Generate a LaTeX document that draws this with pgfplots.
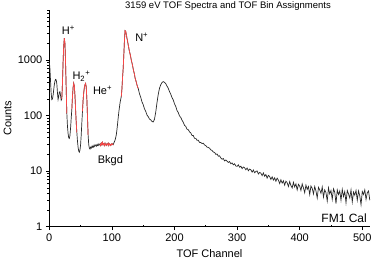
\documentclass[border=0pt]{standalone}
\usepackage{pgfplots}
\pgfplotsset{compat=1.18}
\usepackage{fontspec}
\setmainfont{Liberation Sans}
\definecolor{pk}{RGB}{255,70,70}
\definecolor{ln}{RGB}{40,40,40}
\begin{document}
\begin{tikzpicture}
\useasboundingbox (0,0) rectangle (373pt,260pt);
\begin{axis}[
 at={(49.3pt,33.3pt)}, anchor=south west,
 scale only axis, width=320.5pt, height=216.7pt,
 ymode=log, xmin=0, xmax=512, ymin=1, ymax=8000,
 axis lines=left, axis line style={-, line width=0.8pt, black},
 xtick={0,100,200,300,400,500}, xticklabels={0,100,200,300,400,500},
 minor xtick={50,150,250,350,450},
 ytick={1,10,100,1000}, yticklabels={1,10,100,1000},
 minor ytick={2,3,4,5,6,7,8,9,20,30,40,50,60,70,80,90,200,300,400,500,600,700,800,900,2000,3000,4000,5000,6000,7000,8000},
 tick align=outside, major tick length=3.5pt, minor tick length=2pt,
 minor x tick style={yshift=2pt},
 tick style={line width=0.7pt, black},
 xticklabel style={font=\fontsize{11}{12}\selectfont},
 yticklabel style={font=\fontsize{11}{12}\selectfont},
 /pgf/number format/assume math mode=true,
 clip=false,
]
\addplot[ln, line width=0.7pt] coordinates {
(0,950)(1,700)(2,420)(3,250)(4,195)(5,200)(6,230)(7,290)(8,360)(9,420)(10,450)(11,440)(12,380)(13,260)(14,195)(15,220)(16,265)(17,270)(18,230)(19,190)(20,200)(21,380)(22,900)(23,1800)(24,2500)(25,2000)(26,900)(27,300)(28,110)(29,65)(30,48)(31,40)(32,39)(33,44)(34,60)(35,90)(36,130)(37,220)(38,320)(39,385)(40,340)(41,230)(42,130)(43,75)(44,50)(45,35)(46,27)(47,23)(48,22)(49,24)(50,30)(51,45)(52,75)(53,120)(54,190)(55,260)(56,320)(57,360)(58,380)(59,330)(60,200)(61,95)(62,45)(63,30)(64,26)(65,25)(66,27)(67,26)(68,28)(69,27)(70,29)(71,27)(72,28)(73,30)(74,29)(75,28)(76,30)(77,29)(78,31)(79,29)(80,30)(81,31)(82,29)(83,32)(84,30)(85,33)(86,30)(87,31)(88,29)(89,32)(90,30)(91,29)(92,31)(93,30)(94,32)(95,29)(96,31)(97,30)(98,29)(99,31)(100,30)(101,31)(102,30)(103,32)(104,34)(105,36)(106,40)(107,45)(108,55)(109,70)(110,90)(111,115)(112,140)(113,170)(114,195)(115,220)(116,300)(117,480)(118,700)(119,1200)(120,2200)(121,3400)(122,3300)(123,2900)(124,2500)(125,2200)(126,1900)(127,1650)(128,1450)(129,1300)(130,1150)(131,1000)(132,900)(133,800)(134,700)(135,620)(136,560)(137,480)(138,440)(139,400)(140,360)(141,330)(142,310)(144,250)(146,215)(148,178)(150,158)(152,133)(154,120)(156,103)(158,96)(160,87)(162,84)(164,79)(166,77)(168,86)(170,115)(172,170)(174,240)(176,310)(178,360)(180,395)(182,410)(184,398)(186,378)(188,342)(190,312)(192,272)(194,244)(196,212)(198,192)(200,163)(202,147)(204,124)(206,114)(208,99)(210,93)(212,83)(214,76)(216,67)(218,64)(220,57)(222,56)(224,51)(226,49)(228,44)(230,44)(232,39)(234,39)(236,36)(238,36)(240,33)
(242,32.8)(244,31.5)(246,31.9)(248,29.6)(250,28.9)(252,27.1)(254,26.8)(256,25.9)(258,24.2)(260,23.6)(262,22.1)(264,21.8)(266,20.1)(268,20.4)(270,18.6)(272,18.9)(274,17.3)(276,16.4)(278,16.9)(280,15.3)(282,15.9)(284,15.1)(286,14.4)(288,14.9)(290,13.6)(292,14.1)(294,13.0)(296,13.6)(298,12.4)(300,12.2)(302,13.0)(304,11.8)(306,12.3)(308,11.1)(310,11.9)(312,11.5)(314,10.6)(316,11.4)(318,10.2)(320,10.9)(322,10.6)(324,9.6)(326,10.5)(328,9.4)(330,9.9)(332,10.1)(334,8.9)(336,9.5)(338,9.2)(340,8.3)(342,9.3)(344,8.1)(346,8.7)(348,7.5)(350,8.4)(352,8.0)(354,7.1)(356,7.9)(358,6.9)(360,7.6)(362,6.6)(364,7.5)(366,6.9)(368,6.0)(370,7.0)(372,6.1)(374,6.7)(376,5.6)(378,6.6)(380,6.2)(382,5.3)(384,6.5)(386,5.5)(388,5.0)(390,6.3)(392,5.2)(394,5.9)(396,4.6)(398,5.8)(400,5.4)(402,4.5)(404,5.9)(406,5.0)(408,4.1)(410,5.6)(412,4.7)(414,5.3)(416,3.8)(418,5.4)(420,4.9)(422,3.9)(424,5.3)(426,4.4)(428,3.3)(430,5.1)(432,4.6)(434,4.0)(436,5.2)(438,3.4)(440,4.6)(442,4.1)(444,2.9)(446,5.0)(448,3.9)(450,4.5)(452,3.1)(454,4.8)(456,4.2)(458,2.6)(460,4.6)(462,3.8)(464,4.4)(466,3.0)(468,4.7)(470,3.5)(472,4.3)(474,2.7)(476,4.5)(478,3.9)(480,3.3)(482,4.6)(484,2.8)(486,4.2)(488,3.7)(490,4.5)(492,3.0)(494,4.4)(496,3.6)(498,2.5)(500,4.3)(502,3.8)(504,4.6)(506,3.1)(508,4.1)(510,4.4)(512,3.0)
};
\addplot[pk, line width=0.7pt] coordinates {(20,200)(21,380)(22,900)(23,1800)(24,2500)(25,2000)(26,900)(27,300)(28,110)};
\addplot[pk, line width=0.7pt] coordinates {(36,130)(37,220)(38,320)(39,385)(40,340)(41,230)(42,130)(43,75)(44,50)};
\addplot[pk, line width=0.7pt] coordinates {(53,120)(54,190)(55,260)(56,320)(57,360)(58,380)(59,330)(60,200)(61,95)(62,45)};
\addplot[pk, line width=0.7pt] coordinates {(81,31)(82,29)(83,32)(84,30)(85,33)(86,30)(87,31)(88,29)(89,32)(90,30)(91,29)(92,31)(93,30)(94,32)(95,29)(96,31)(97,30)(98,29)(99,31)(100,30)(101,31)(102,30)};
\addplot[pk, line width=0.7pt] coordinates {(115,220)(116,300)(117,480)(118,700)(119,1200)(120,2200)(121,3400)(122,3300)(123,2900)(124,2500)(125,2200)(126,1900)(127,1650)(128,1450)(129,1300)(130,1150)(131,1000)(132,900)(133,800)(134,700)(135,620)(136,560)(137,480)(138,440)(139,400)(140,360)(141,330)(142,310)};
\node[anchor=base west, inner sep=0pt, font=\fontsize{11}{12}\selectfont] at (axis cs:19.8,2840) {H\textsuperscript{+}};
\node[anchor=base west, inner sep=0pt, font=\fontsize{11}{12}\selectfont] at (axis cs:36.8,440) {H\textsubscript{2}\textsuperscript{+}};
\node[anchor=base west, inner sep=0pt, font=\fontsize{11}{12}\selectfont] at (axis cs:69.5,243) {He\textsuperscript{+}};
\node[anchor=base west, inner sep=0pt, font=\fontsize{11}{12}\selectfont] at (axis cs:137,2150) {N\textsuperscript{+}};
\node[anchor=base west, inner sep=0pt, font=\fontsize{11}{12}\selectfont] at (axis cs:77.3,13.9) {Bkgd};
\node[anchor=base east, inner sep=0pt, font=\fontsize{12}{13}\selectfont] at (axis cs:507.5,1.18) {FM1 Cal};
\end{axis}
\node[font=\fontsize{9.5}{11}\selectfont] at (228pt,254pt) {3159 eV TOF Spectra and TOF Bin Assignments};
\node[font=\fontsize{11}{12}\selectfont] at (209.5pt,6pt) {TOF Channel};
\node[font=\fontsize{11}{12}\selectfont, rotate=90] at (7.5pt,142pt) {Counts};
\end{tikzpicture}
\end{document}
